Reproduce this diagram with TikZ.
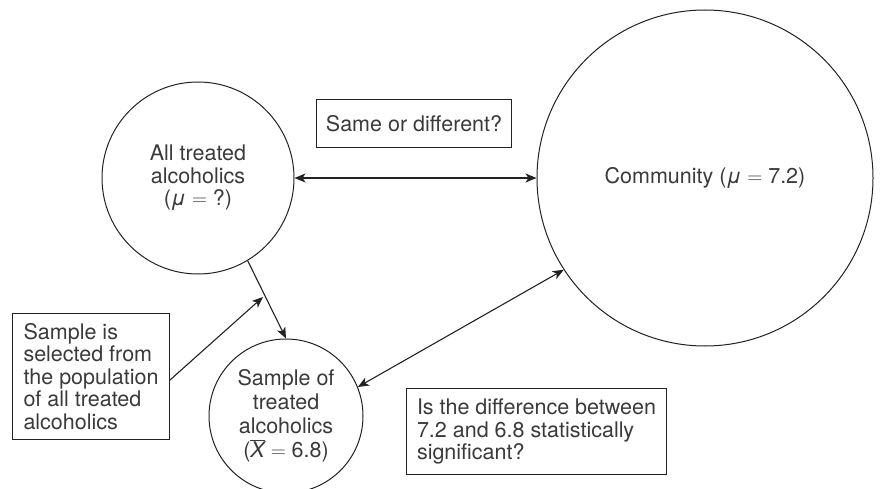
\documentclass[tikz,border=0pt]{standalone}
\usepackage{fontspec}
\setmainfont{TeX Gyre Heros}
\usetikzlibrary{arrows.meta}
\definecolor{ink}{HTML}{222222}
\definecolor{txt}{HTML}{3a3a3a}
% a wide, light equals sign between spaced operands
\newcommand{\eqsign}{\ensuremath{=}}
\begin{document}
\begin{tikzpicture}[x=1pt,y=-1pt,
  every node/.style={font=\fontsize{21.5}{22.5}\selectfont, text=txt},
  circ/.style={draw=ink, line width=1pt, circle, inner sep=0pt, align=center},
  tbox/.style={draw=ink, line width=1pt, rectangle, anchor=north west, align=left, inner sep=0pt},
  link/.style={draw=ink, line width=1.1pt},
  tip/.style={-{Stealth[length=11pt,width=9pt,inset=3pt]}},
  tips/.style={{Stealth[length=11pt,width=9pt,inset=3pt]}-{Stealth[length=11pt,width=9pt,inset=3pt]}}
]
\clip (0,0) rectangle (881,489);

% populations and sample
\node[circ, minimum size=192pt] (A) at (198,178) {All treated\\alcoholics\\(\textit{μ} \eqsign{} ?)};
\node[circ, minimum size=336pt] (C) at (705,178) {Community (\textit{μ} \eqsign{} 7.2)};
\node[circ, minimum size=154pt, font=\fontsize{21.5}{24}\selectfont] (B) at (286,416)
  {Sample of\\treated\\alcoholics\\($\overline{\hbox{\itshape X}}$ \eqsign{} 6.8)};

% text boxes
\node[tbox, minimum width=157pt, minimum height=126pt] (sel) at (12,313)
  {Sample is\\selected from\\the population\\of all treated\\alcoholics};
\node[tbox, minimum width=195pt, minimum height=48pt, align=center] (same) at (316,99) {Same or different?};
\node[tbox, minimum width=260pt, minimum height=86pt] (sig) at (406,388)
  {Is the difference between\\7.2 and 6.8 statistically\\significant?};

% connectors
\coordinate (pick) at (263,297);
\draw[link, tips] (A.east) -- (C.west);
\draw[link, tip] (A.-59) -- (B.north);
\draw[link, tip] (sel.east |- 0,380) -- (pick);
\draw[link, tips] (B.22) -- (C.213);
\end{tikzpicture}
\end{document}
